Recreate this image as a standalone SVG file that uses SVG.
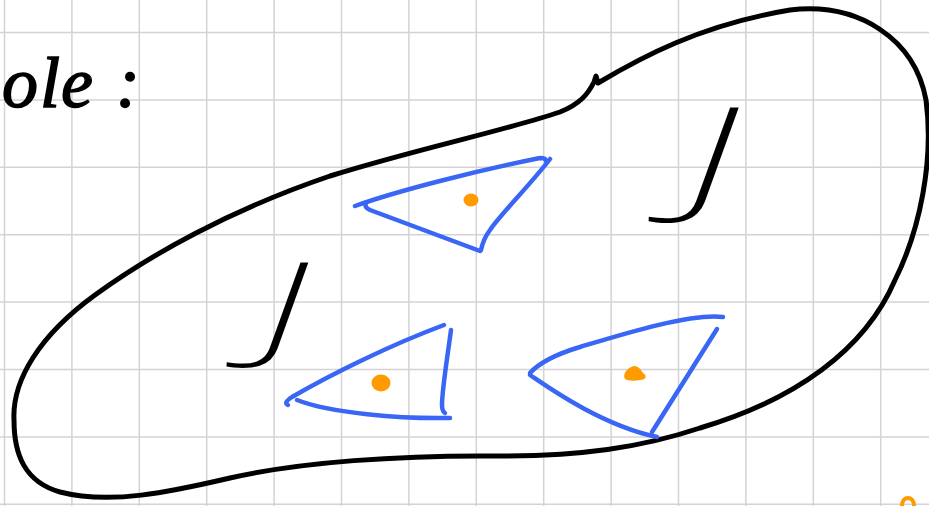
<svg xmlns="http://www.w3.org/2000/svg" width="929" height="506" viewBox="0 0 929 506">
<style>
.grid line{stroke:#d3d3d3;stroke-width:1.5}
.ink{fill:none;stroke:#000;stroke-width:5;stroke-linecap:round;stroke-linejoin:round}
.tri{fill:none;stroke:#3a66f5;stroke-width:4.5;stroke-linecap:round;stroke-linejoin:round}
.dot{fill:#ff9a00}
.hand{font-family:"Liberation Serif",serif;font-style:italic;fill:#000;stroke:#000;stroke-width:1.5}
.big{font-family:"Noto Sans","DejaVu Sans",sans-serif;font-style:italic;font-weight:200;fill:#000;text-anchor:middle}
</style>
<rect width="929" height="506" fill="#fff"/>
<g class="grid" id="grid">
<line x1="4.5" y1="0" x2="4.5" y2="506"/>
<line x1="71.9" y1="0" x2="71.9" y2="506"/>
<line x1="139.3" y1="0" x2="139.3" y2="506"/>
<line x1="206.7" y1="0" x2="206.7" y2="506"/>
<line x1="274.1" y1="0" x2="274.1" y2="506"/>
<line x1="341.5" y1="0" x2="341.5" y2="506"/>
<line x1="408.9" y1="0" x2="408.9" y2="506"/>
<line x1="476.3" y1="0" x2="476.3" y2="506"/>
<line x1="543.7" y1="0" x2="543.7" y2="506"/>
<line x1="611.1" y1="0" x2="611.1" y2="506"/>
<line x1="678.5" y1="0" x2="678.5" y2="506"/>
<line x1="745.9" y1="0" x2="745.9" y2="506"/>
<line x1="813.3" y1="0" x2="813.3" y2="506"/>
<line x1="880.7" y1="0" x2="880.7" y2="506"/>
<line x1="0" y1="32.5" x2="929" y2="32.5"/>
<line x1="0" y1="99.9" x2="929" y2="99.9"/>
<line x1="0" y1="167.3" x2="929" y2="167.3"/>
<line x1="0" y1="234.7" x2="929" y2="234.7"/>
<line x1="0" y1="302.1" x2="929" y2="302.1"/>
<line x1="0" y1="369.5" x2="929" y2="369.5"/>
<line x1="0" y1="436.9" x2="929" y2="436.9"/>
<line x1="0" y1="504.3" x2="929" y2="504.3"/>
</g>
<g id="title">
<text class="hand" font-size="72" y="107"><tspan x="2">o</tspan><tspan x="40">l</tspan><tspan x="61">e</tspan><tspan x="116">:</tspan></text>
</g>
<g id="region">
<path class="ink" d="M14,420 C12,380 40,335 95,295 C150,255 230,210 330,176 C420,148 500,132 560,112 C580,104 588,94 594,82 L596,76 L598,83 C640,58 700,25 790,10 C860,2 915,40 926,100 C934,160 920,230 895,280 C865,350 795,400 700,428 C640,448 580,456 500,456 C400,455 300,462 230,478 C170,492 110,505 60,492 C25,482 14,455 14,420 Z"/>
</g>
<g id="letter1">
<text class="big" font-size="130" transform="translate(712,200) scale(1.7,1)">J</text>
</g>
<g id="letter2">
<text class="big" font-size="118" transform="translate(284,347) scale(1.7,1)">J</text>
</g>
<g id="triangle1">
<path class="tri" d="M355,206 C400,190 480,170 540,158 Q546,158 546,161"/>
<path class="tri" d="M550,159 C530,185 500,215 490,230 C484,238 482,245 481,250"/>
<path class="tri" d="M480,251 L370,210 Q364,207 366,203"/>
<ellipse class="dot" cx="471" cy="200" rx="7.5" ry="6.5"/>
</g>
<g id="triangle2">
<path class="tri" d="M288,405 Q283,403 292,397 C330,375 390,345 444,325"/>
<path class="tri" d="M451,330 C447,360 442,390 442,405 Q442,411 445,413"/>
<path class="tri" d="M450,418 C400,419 330,413 297,400"/>
<ellipse class="dot" cx="381" cy="383" rx="9.5" ry="8.5"/>
</g>
<g id="triangle3">
<path class="tri" d="M723,317 C690,313 620,335 580,347 C560,353 540,362 530,373"/>
<path class="tri" d="M530,375 C545,385 600,425 657,437"/>
<path class="tri" d="M717,329 L652,432"/>
<path class="dot" d="M625,379 C622,374 628,367 634,366 C639,366 641,370 643,373 C647,375 647,380 640,380 C634,381 628,381 625,379 Z"/>
</g>
<g id="mark">
<path d="M902,506 C902,500 905,498 908,498 C911,498 914,500 914,506" fill="none" stroke="#ff9a00" stroke-width="4" stroke-linecap="round"/>
</g>
</svg>
